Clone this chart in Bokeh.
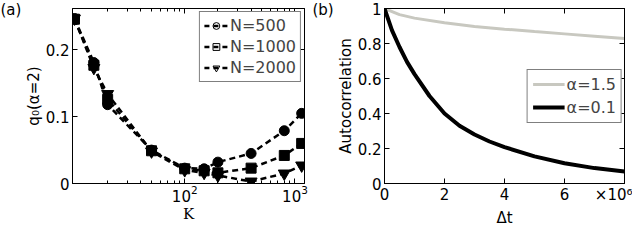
from bokeh.plotting import figure
from bokeh.layouts import row
from bokeh.models import (LinearAxis, LogAxis, FixedTicker, Legend, LegendItem,
                          Label, Range1d)
from bokeh.embed import file_html
from bokeh.resources import INLINE

# ---------------- data: panel (a) ----------------
K = [10, 15, 20, 50, 100, 150, 200, 400, 800, 1150]
q_N500 = [0.247, 0.181, 0.118, 0.050, 0.023, 0.022, 0.032, 0.045, 0.079, 0.105]
q_N1000 = [0.246, 0.177, 0.126, 0.049, 0.022, 0.019, 0.016, 0.023, 0.042, 0.060]
q_N2000 = [0.247, 0.173, 0.134, 0.048, 0.020, 0.016, 0.012, 0.003, 0.015, 0.027]
series_labels = ["N=500", "N=1000", "N=2000"]
series_markers = ["circle", "square", "inverted_triangle"]
K_ticks = [100, 1000]
K_minor = [20, 30, 40, 50, 60, 70, 80, 90, 200, 300, 400, 500, 600, 700, 800, 900]
q_ticks = [0, 0.1, 0.2]
q_tick_labels = ["0", "0.1", "0.2"]

# ---------------- data: panel (b) ----------------
dt_slow = [0, 0.5, 1, 2, 3, 4, 5, 6, 7, 8]            # x10^6
acf_a15 = [1.0, 0.965, 0.945, 0.918, 0.897, 0.882, 0.868, 0.855, 0.842, 0.828]
dt_fast = [0, 0.25, 0.5, 0.75, 1, 1.5, 2, 2.5, 3, 3.5, 4, 5, 6, 7, 8]  # x10^6
acf_a01 = [1.0, 0.875, 0.78, 0.695, 0.625, 0.50, 0.40, 0.33, 0.28, 0.24, 0.208,
           0.155, 0.116, 0.088, 0.068]
b_labels = ["\u03b1=1.5", "\u03b1=0.1"]
dt_ticks = [0, 2, 4, 6, 8]
dt_label_ticks = [0, 2, 4, 6, 7.8]
dt_label_text = ["0", "2", "4", "6", "\u00d710\u2076"]
acf_ticks = [0, 0.2, 0.4, 0.6, 0.8, 1.0]
acf_tick_labels = ["0", "0.2", "0.4", "0.6", "0.8", "1"]

FONT = "DejaVu Sans"
H = 229
TOP = 8
BOTTOM = 40


def style_axis(ax, tick_size="15px"):
    ax.major_label_text_font = FONT
    ax.major_label_text_font_size = tick_size
    ax.major_label_text_color = "black"
    ax.axis_label_text_font = FONT
    ax.axis_label_text_font_size = "15px"
    ax.axis_label_text_font_style = "normal"
    ax.axis_label_text_color = "black"
    ax.major_tick_in = 5
    ax.major_tick_out = 0
    ax.minor_tick_in = 3
    ax.minor_tick_out = 0
    ax.axis_line_color = "black"
    ax.major_tick_line_color = "black"
    ax.minor_tick_line_color = "black"
    ax.major_label_standoff = 3


def hide_labels(ax):
    ax.major_label_text_font_size = "1px"
    ax.major_label_text_alpha = 0
    ax.major_label_standoff = 0


def mirror_axis(cls, ticker):
    ax = cls(ticker=ticker)
    style_axis(ax)
    hide_labels(ax)
    return ax


def panel_letter(text, y_top):
    # lives in a side panel so it is not clipped to the frame
    return Label(x=0, x_units="screen", y=y_top, y_units="data", y_offset=TOP,
                 text=text, text_font=FONT, text_font_size="15px",
                 text_baseline="top", text_align="left", text_color="black")


# ================= panel (a) =================
p1 = figure(width=312, height=H, x_axis_type="log",
            x_range=Range1d(9.6, 1220), y_range=Range1d(0, 0.262),
            output_backend="svg", toolbar_location=None,
            min_border_left=0, min_border_right=8, min_border_top=TOP,
            min_border_bottom=BOTTOM)
p1.grid.visible = False
p1.outline_line_color = "black"

xt = FixedTicker(ticks=K_ticks, minor_ticks=K_minor)
yt = FixedTicker(ticks=q_ticks)
p1.xaxis.ticker = xt
p1.yaxis.ticker = yt
for ax in p1.xaxis + p1.yaxis:
    style_axis(ax)
p1.yaxis.minor_tick_line_color = None
p1.xaxis.major_label_standoff = 1
p1.xaxis.axis_label = "K"
p1.xaxis.axis_label_text_font = "DejaVu Serif"
p1.xaxis.axis_label_standoff = 0
p1.yaxis.axis_label = "q\u2080(\u03b1=2)"
p1.yaxis.axis_label_standoff = 0
p1.yaxis.major_label_overrides = dict(zip(q_ticks, q_tick_labels))

p1.add_layout(mirror_axis(LogAxis, xt), "above")
right1 = mirror_axis(LinearAxis, yt)
right1.minor_tick_line_color = None
p1.add_layout(right1, "right")

items = []
for ys, lab, mk in zip([q_N500, q_N1000, q_N2000], series_labels, series_markers):
    p1.line(K, ys, line_color="black", line_width=2.5, line_dash="6 4")
    p1.scatter(K, ys, marker=mk, size=10 if mk != "inverted_triangle" else 12,
               fill_color="black", line_color="black")
    sr = p1.scatter(x=[0.0], y=[-1.0], marker=mk, size=8, fill_color="white",
                    line_color="black", line_width=1)
    lr = p1.line(x=[0.0, 0.0], y=[-1.0, -1.0], line_color="black", line_width=2.5,
                 line_dash="5 4")
    items.append(LegendItem(label=lab, renderers=[sr, lr]))

leg1 = Legend(items=items, location="top_right", border_line_color="black",
              border_line_width=1, background_fill_color="white",
              background_fill_alpha=1, label_text_font=FONT,
              label_text_font_size="16px", glyph_width=24, glyph_height=17,
              label_height=17, spacing=2, padding=4, margin=3, label_standoff=2)
p1.add_layout(leg1)
p1.add_layout(panel_letter("(a)", 0.262), "left")

# ================= panel (b) =================
p2 = figure(width=320, height=H, x_range=Range1d(0, 8), y_range=Range1d(0, 1),
            output_backend="svg", toolbar_location=None,
            min_border_left=0, min_border_right=8, min_border_top=TOP,
            min_border_bottom=BOTTOM)
p2.grid.visible = False
p2.outline_line_color = "black"

xt2 = FixedTicker(ticks=dt_ticks)
yt2 = FixedTicker(ticks=acf_ticks)
p2.xaxis.ticker = xt2
p2.yaxis.ticker = yt2
for ax in p2.xaxis + p2.yaxis:
    style_axis(ax)
    ax.minor_tick_line_color = None
hide_labels(p2.xaxis[0])
p2.yaxis.axis_label = "Autocorrelation"
p2.yaxis.axis_label_standoff = 0
p2.yaxis.major_label_overrides = dict(zip(acf_ticks, acf_tick_labels))

xlab2 = LinearAxis(ticker=FixedTicker(ticks=dt_label_ticks))
style_axis(xlab2)
xlab2.axis_line_color = None
xlab2.major_tick_line_color = None
xlab2.minor_tick_line_color = None
xlab2.major_label_standoff = 2
xlab2.major_label_overrides = dict(zip(dt_label_ticks, dt_label_text))
xlab2.axis_label = "\u0394t"
xlab2.axis_label_standoff = 2
p2.add_layout(xlab2, "below")

top2 = mirror_axis(LinearAxis, xt2)
top2.minor_tick_line_color = None
p2.add_layout(top2, "above")
right2 = mirror_axis(LinearAxis, yt2)
right2.minor_tick_line_color = None
p2.add_layout(right2, "right")

g = p2.line(dt_slow, acf_a15, line_color="#c8c8c0", line_width=3)
k = p2.line(dt_fast, acf_a01, line_color="black", line_width=4)

leg2 = Legend(items=[LegendItem(label=b_labels[0], renderers=[g]),
                     LegendItem(label=b_labels[1], renderers=[k])],
              location="center_right", border_line_color="black",
              border_line_width=1, background_fill_color="white",
              background_fill_alpha=1, label_text_font=FONT,
              label_text_font_size="16px", glyph_width=32, glyph_height=18,
              label_height=18, spacing=4, padding=5, margin=2, label_standoff=2)
p2.add_layout(leg2)
p2.add_layout(panel_letter("(b)", 1), "left")

layout = row(p1, p2, spacing=0)
open("out.html", "w").write(file_html(layout, INLINE))
